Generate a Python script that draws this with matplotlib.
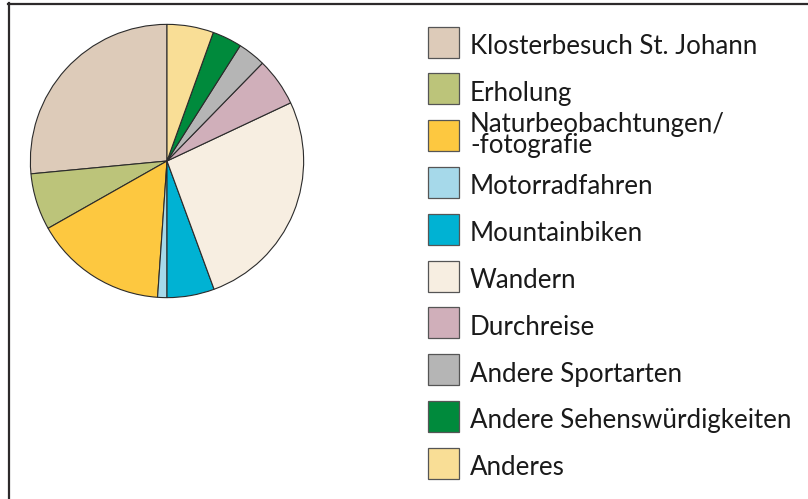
import matplotlib.pyplot as plt
from matplotlib.patches import Rectangle
from matplotlib.lines import Line2D

# Anteile der Besuchsgründe (%), geschätzt aus dem Bild
labels = [
    "Klosterbesuch St. Johann",
    "Erholung",
    "Naturbeobachtungen/\n-fotografie",
    "Motorradfahren",
    "Mountainbiken",
    "Wandern",
    "Durchreise",
    "Andere Sportarten",
    "Andere Sehenswürdigkeiten",
    "Anderes",
]
shares = [26.5, 6.7, 15.7, 1.1, 5.6, 26.4, 5.7, 3.3, 3.5, 5.5]
colors = [
    "#DDCBB9", "#BCC47A", "#FDC840", "#A6D9EA", "#00B2D3",
    "#F7EEE1", "#D0AFBA", "#B5B5B5", "#008A3C", "#F9DE96",
]

W, H = 808, 499
plt.rcParams["font.family"] = ["Lato", "DejaVu Sans"]

fig = plt.figure(figsize=(W / 100, H / 100), dpi=100)

# pie: centre (167, 161) px, radius 138 px
cx, cy, r = 167, 161, 138
ax = fig.add_axes([(cx - r) / W, (H - cy - r) / H, 2 * r / W, 2 * r / H])
ax.pie(shares, colors=colors, startangle=90, counterclock=True,
       wedgeprops=dict(edgecolor="#2b2b2b", linewidth=0.8))
ax.set_xlim(-1.01, 1.01)
ax.set_ylim(-1.01, 1.01)
ax.set_aspect("equal")
ax.axis("off")

# legend drawn by hand
box_x, box_w = 428, 31
first_y, step = 42, 46.8
fs = 18.6
for i, (lab, col) in enumerate(zip(labels, colors)):
    yc = first_y + i * step
    fig.patches.append(Rectangle((box_x / W, (H - yc - box_w / 2) / H),
                                 box_w / W, box_w / H, transform=fig.transFigure,
                                 facecolor=col, edgecolor="#555555", linewidth=0.9))
    if "\n" in lab:
        fig.text(470 / W, (H - yc + 1) / H, lab, fontsize=fs, va="center", ha="left",
                 linespacing=0.8, color="#1a1a1a")
    else:
        fig.text(470 / W, (H - yc - 12) / H, lab, fontsize=fs, va="baseline", ha="left",
                 color="#1a1a1a")

# cropped frame: top and left only
fig.add_artist(Line2D([8 / W, 1], [1 - 3.5 / H, 1 - 3.5 / H], transform=fig.transFigure,
                      color="#2d2a2b", linewidth=1.6))
fig.add_artist(Line2D([9 / W, 9 / W], [0, 1 - 3 / H], transform=fig.transFigure,
                      color="#2d2a2b", linewidth=1.6))

fig.savefig("out.png", dpi=100)
